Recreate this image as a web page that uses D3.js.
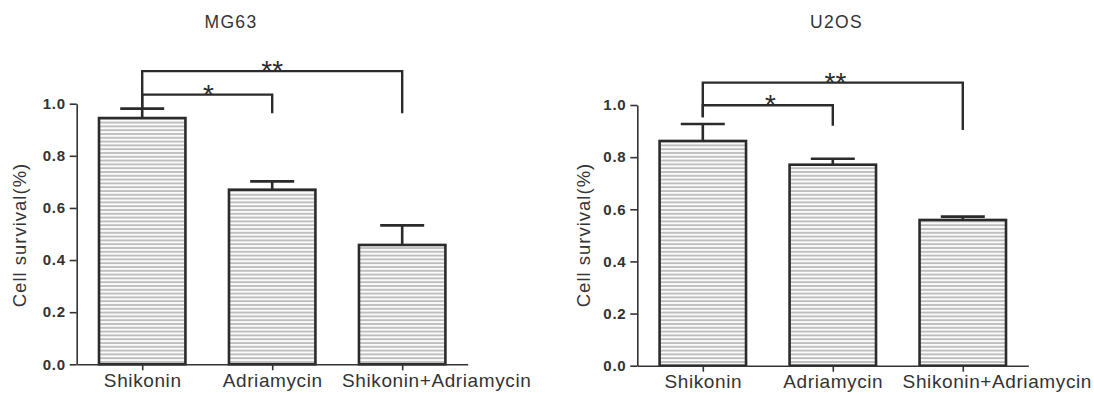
<!DOCTYPE html>
<html>
<head>
<meta charset="utf-8">
<script src="https://cdn.jsdelivr.net/npm/d3@7"></script>
<style>
  body { margin: 0; background: #fff; }
  text { font-family: "Liberation Sans", Arial, sans-serif; }
</style>
</head>
<body>
<div id="chart"></div>
<script>
// data
const categories = ['Shikonin', 'Adriamycin', 'Shikonin+Adriamycin'];
const yTicks = [0.0, 0.2, 0.4, 0.6, 0.8, 1.0];

const mg63Values = [0.945, 0.670, 0.458];
const mg63Errors = [0.036, 0.032, 0.075];
const mg63Brackets = [
    { from: 0, to: 1, y: 1.035, leg: 0.963, label: '*' },
    { from: 0, to: 2, y: 1.125, leg: 0.963, label: '**' }
];

const u2osValues = [0.862, 0.771, 0.559];
const u2osErrors = [0.065, 0.023, 0.013];
const u2osBrackets = [
    { from: 0, to: 1, y: 0.999, leg: 0.920, label: '*' },
    { from: 0, to: 2, y: 1.086, leg: 0.904, label: '**' }
];

const w = 1094;
const h = 395;

const svg = d3.select('#chart')
    .append('svg')
    .attr('width', w)
    .attr('height', h);

// horizontal hatching for the bars
svg.append('defs')
    .append('pattern')
    .attr('id', 'hatch')
    .attr('patternUnits', 'userSpaceOnUse')
    .attr('width', 8)
    .attr('height', 3.8)
    .call(p => {
        p.append('rect').attr('width', 8).attr('height', 3.8).attr('fill', '#fafafa');
        p.append('line')
            .attr('x1', 0).attr('x2', 8)
            .attr('y1', 1).attr('y2', 1)
            .attr('stroke', '#a4a4a4')
            .attr('stroke-width', 1.3);
    });

function drawPanel(cfg) {
    const g = svg.append('g');

    const x = d3.scalePoint()
        .domain(categories)
        .range([cfg.left, cfg.right])
        .padding(0.504);

    const y = d3.scaleLinear()
        .domain([0, 1])
        .range([cfg.bottom, cfg.top]);

    const barW = x.step() * 0.665;
    const capW = 44;

    // title
    g.append('text')
        .attr('x', cfg.titleX)
        .attr('y', 28)
        .attr('text-anchor', 'middle')
        .attr('font-size', 17.5)
        .attr('letter-spacing', 1.3)
        .attr('fill', '#333')
        .text(cfg.title);

    // bars
    g.selectAll('rect.bar')
        .data(cfg.values)
        .enter()
        .append('rect')
        .attr('class', 'bar')
        .attr('x', (d, i) => x(categories[i]) - barW / 2)
        .attr('y', d => y(d))
        .attr('width', barW)
        .attr('height', d => y(0) - y(d))
        .attr('fill', 'url(#hatch)')
        .attr('stroke', '#2b2b2b')
        .attr('stroke-width', 2.6);

    // error bars
    cfg.values.forEach((v, i) => {
        const cx = x(categories[i]);
        const top = v + cfg.errors[i];
        g.append('line')
            .attr('x1', cx).attr('x2', cx)
            .attr('y1', y(v)).attr('y2', y(top))
            .attr('stroke', '#2b2b2b').attr('stroke-width', 2.6);
        g.append('line')
            .attr('x1', cx - capW / 2).attr('x2', cx + capW / 2)
            .attr('y1', y(top)).attr('y2', y(top))
            .attr('stroke', '#2b2b2b').attr('stroke-width', 2.6);
    });

    // significance brackets
    cfg.brackets.forEach((b, k) => {
        const x0 = x(categories[b.from]);
        const x1 = x(categories[b.to]);
        const path = d3.path();
        path.moveTo(x0, y(cfg.startLeg));
        path.lineTo(x0, y(b.y));
        path.lineTo(x1, y(b.y));
        path.lineTo(x1, y(b.leg));
        g.append('path')
            .attr('d', path.toString())
            .attr('fill', 'none')
            .attr('stroke', '#2b2b2b')
            .attr('stroke-width', 2.4);
        g.append('text')
            .attr('x', x0 + (x1 - x0) * cfg.starPos[k])
            .attr('y', y(b.y) + 9)
            .attr('text-anchor', 'middle')
            .attr('font-size', 28)
            .attr('letter-spacing', 0)
            .attr('fill', '#2b2b2b')
            .text(b.label);
    });

    // axes
    const yAxis = d3.axisLeft(y)
        .tickValues(yTicks)
        .tickFormat(d3.format('.1f'))
        .tickSize(7)
        .tickSizeOuter(0);

    g.append('g')
        .attr('transform', 'translate(' + cfg.left + ',0)')
        .call(yAxis)
        .call(a => a.select('.domain').attr('stroke', '#333').attr('stroke-width', 1.6))
        .call(a => a.selectAll('.tick line').attr('stroke', '#333').attr('stroke-width', 1.6))
        .call(a => a.selectAll('.tick text')
            .attr('font-size', 15)
            .attr('font-weight', 'bold')
            .attr('letter-spacing', 0.7)
            .attr('fill', '#333')
            .attr('dx', '-1'));

    const xAxis = d3.axisBottom(x)
        .tickSize(6)
        .tickSizeOuter(0);

    g.append('g')
        .attr('transform', 'translate(0,' + cfg.bottom + ')')
        .call(xAxis)
        .call(a => a.select('.domain').attr('stroke', '#333').attr('stroke-width', 1.6))
        .call(a => a.selectAll('.tick line').attr('stroke', '#333').attr('stroke-width', 1.6))
        .call(a => a.selectAll('.tick text')
            .attr('font-size', 19)
            .attr('letter-spacing', 0.6)
            .attr('fill', '#333')
            .attr('dy', '0.7em')
            .attr('dx', (d, i) => i === 2 ? 34 : 0));

    // y label
    g.append('text')
        .attr('transform', 'translate(' + cfg.labelX + ',' + 235 + ') rotate(-90)')
        .attr('text-anchor', 'middle')
        .attr('font-size', 18.5)
        .attr('letter-spacing', 1)
        .attr('fill', '#333')
        .text('Cell survival(%)');
}

drawPanel({
    title: 'MG63', titleX: 231,
    left: 76.7, right: 467.7, top: 103.7, bottom: 364.3,
    labelX: 25.5,
    values: mg63Values, errors: mg63Errors,
    brackets: mg63Brackets, startLeg: 0.976,
    starPos: [0.51, 0.5]
});

drawPanel({
    title: 'U2OS', titleX: 836.5,
    left: 637.3, right: 1028.3, top: 105, bottom: 365.7,
    labelX: 590,
    values: u2osValues, errors: u2osErrors,
    brackets: u2osBrackets, startLeg: 0.953,
    starPos: [0.52, 0.51]
});
</script>
</body>
</html>
